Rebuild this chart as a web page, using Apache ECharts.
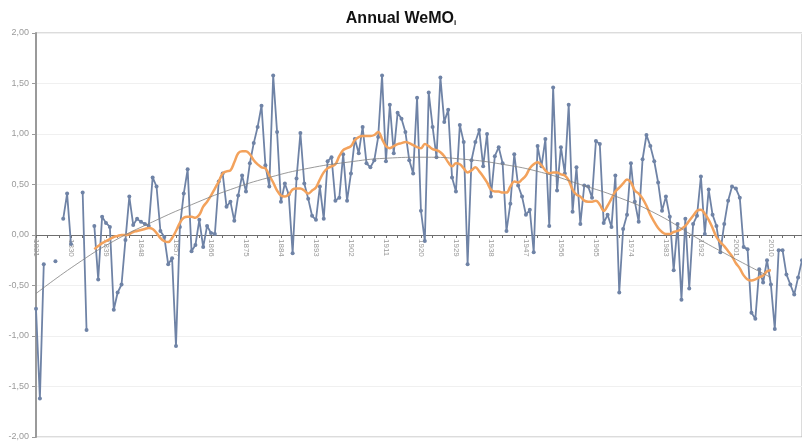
<!DOCTYPE html>
<html>
<head>
<meta charset="utf-8">
<script src="https://cdn.jsdelivr.net/npm/echarts@6/dist/echarts.min.js"></script>
<style>html,body{margin:0;padding:0;background:#fff}#c{width:802px;height:445px}</style>
</head>
<body>
<div id="c"></div>
<script>
var years = [];
for (var y = 1821; y <= 2018; y++) years.push(String(y));

var annual = [
-0.73,-1.62,-0.29,null,null,-0.26,null,0.16,0.41,-0.09,
null,null,0.42,-0.94,null,0.09,-0.44,0.18,0.12,0.08,
-0.74,-0.57,-0.49,-0.05,0.38,0.10,0.16,0.13,0.11,0.09,
0.57,0.48,0.04,-0.02,-0.29,-0.23,-1.10,0.08,0.41,0.65,
-0.16,-0.10,0.15,-0.12,0.09,0.02,0.01,0.53,0.61,0.28,
0.33,0.14,0.39,0.59,0.43,0.71,0.91,1.07,1.28,0.69,
0.48,1.58,1.02,0.33,0.51,0.40,-0.18,0.56,1.01,0.51,
0.36,0.19,0.15,0.48,0.16,0.73,0.77,0.34,0.37,0.80,
0.34,0.61,0.95,0.81,1.07,0.71,0.67,0.74,0.97,1.58,
0.73,1.29,0.81,1.21,1.15,1.02,0.74,0.61,1.36,0.24,
-0.06,1.41,1.07,0.77,1.56,1.12,1.24,0.57,0.43,1.09,
0.92,-0.29,0.74,0.92,1.04,0.68,1.00,0.38,0.78,0.87,
0.71,0.04,0.31,0.80,0.49,0.38,0.20,0.25,-0.17,0.88,
0.68,0.95,0.09,1.46,0.44,0.87,0.61,1.29,0.23,0.67,
0.11,0.49,0.48,0.37,0.93,0.90,0.12,0.20,0.08,0.59,
-0.57,0.06,0.20,0.71,0.33,0.13,0.75,0.99,0.88,0.73,
0.52,0.24,0.38,0.18,-0.35,0.11,-0.64,0.16,-0.53,0.11,
0.19,0.58,0.01,0.45,0.20,0.09,-0.17,0.11,0.34,0.48,
0.46,0.37,-0.12,-0.14,-0.77,-0.83,-0.34,-0.47,-0.25,-0.49,
-0.93,-0.15,-0.15,-0.39,-0.49,-0.59,-0.42,-0.25
];

// moving average, 1836..2010
var smoothVals = [
-0.14,-0.11,-0.08,-0.06,-0.04,-0.02,-0.01,0.00,0.00,0.01,
0.03,0.04,0.05,0.06,0.07,0.06,0.02,-0.03,-0.06,-0.07,
-0.03,0.04,0.12,0.17,0.18,0.18,0.17,0.20,0.28,0.33,
0.39,0.46,0.53,0.61,0.63,0.64,0.72,0.81,0.83,0.83,
0.80,0.74,0.70,0.67,0.66,0.59,0.52,0.44,0.39,0.38,
0.40,0.45,0.46,0.46,0.44,0.41,0.44,0.47,0.55,0.62,
0.66,0.68,0.70,0.78,0.84,0.86,0.88,0.94,0.97,0.98,
0.98,0.98,0.99,1.02,0.95,0.88,0.86,0.88,0.90,0.91,
0.92,0.91,0.89,0.87,0.86,0.90,0.88,0.85,0.84,0.82,
0.78,0.72,0.68,0.71,0.70,0.66,0.62,0.64,0.67,0.63,
0.58,0.52,0.45,0.43,0.43,0.42,0.42,0.48,0.53,0.52,
0.55,0.59,0.66,0.70,0.72,0.69,0.64,0.61,0.62,0.62,
0.60,0.59,0.54,0.45,0.40,0.38,0.34,0.33,0.33,0.34,
0.30,0.24,0.29,0.36,0.43,0.47,0.51,0.55,0.52,0.44,
0.41,0.36,0.29,0.20,0.13,0.07,0.03,0.01,0.01,0.03,
0.04,0.06,0.09,0.14,0.19,0.24,0.25,0.21,0.15,0.07,
-0.02,-0.07,-0.11,-0.16,-0.21,-0.28,-0.33,-0.40,-0.44,-0.45,
-0.44,-0.42,-0.40,-0.36,-0.35
];

var trendYears = ['1821','1831','1841','1851','1861','1871','1881','1891','1901','1911','1921','1931','1941','1951','1961','1971','1981','1991','2001','2010'];
var trendVals = [-0.58,-0.30,-0.06,0.13,0.30,0.45,0.57,0.66,0.72,0.76,0.77,0.75,0.70,0.62,0.50,0.37,0.20,-0.03,-0.24,-0.42];

var yTicks = { min: -2, max: 2, step: 0.5 };

var smoothSeries = years.map(function (yr) {
  var i = Number(yr) - 1836;
  return (i >= 0 && i < smoothVals.length) ? smoothVals[i] : null;
});
var trendSeries = years.map(function (yr) {
  var k = trendYears.indexOf(yr);
  return k >= 0 ? trendVals[k] : null;
});

var GRID_TOP = 33, GRID_BOTTOM = 8, H = 445;
var plotH = H - GRID_TOP - GRID_BOTTOM;
var zeroOffset = -plotH * (0 - yTicks.min) / (yTicks.max - yTicks.min);

var chart = echarts.init(document.getElementById('c'), null, { renderer: 'canvas' });
chart.setOption({
  animation: false,
  backgroundColor: '#fff',
  title: {
    left: 'center',
    top: 6,
    text: '{a|Annual WeMO}{b|i}',
    textStyle: {
      rich: {
        a: { fontSize: 16, fontWeight: 'bold', fontFamily: 'Liberation Sans', color: '#111' },
        b: { fontSize: 8, fontWeight: 'bold', fontFamily: 'Liberation Sans', color: '#111', padding: [8, 0, 0, 0] }
      }
    }
  },
  grid: { left: 36, right: 0, top: GRID_TOP, bottom: GRID_BOTTOM, show: true, borderColor: '#b8b8b8', borderWidth: 1, outerBoundsMode: 'none', containLabel: false },
  xAxis: {
    type: 'category',
    data: years,
    boundaryGap: false,
    offset: zeroOffset,
    axisLine: { onZero: false, lineStyle: { color: '#6e6e6e', width: 1 } },
    axisTick: { show: true, interval: 2, length: 3, lineStyle: { color: '#6e6e6e' } },
    axisLabel: { interval: 8, rotate: -90, fontSize: 8, color: '#9a9a9a', margin: 4, fontFamily: 'Liberation Sans' },
    splitLine: { show: false }
  },
  yAxis: {
    type: 'value',
    min: yTicks.min,
    max: yTicks.max,
    interval: yTicks.step,
    axisLine: { show: true, lineStyle: { color: '#9a9a9a', width: 2 } },
    axisTick: { show: true, length: 4, lineStyle: { color: '#9a9a9a' } },
    axisLabel: {
      fontSize: 9, color: '#9a9a9a', margin: 7, fontFamily: 'Liberation Sans',
      formatter: function (v) { return v.toFixed(2).replace('.', ','); }
    },
    splitLine: { show: true, lineStyle: { color: '#f0f0f0', width: 1 } }
  },
  series: [
    {
      name: 'annual', type: 'line', data: annual,
      symbol: 'circle', symbolSize: 4, showAllSymbol: true,
      connectNulls: false,
      lineStyle: { color: '#6f83a6', width: 1.8 },
      itemStyle: { color: '#6f83a6' },
      z: 2
    },
    {
      name: 'smooth', type: 'line', data: smoothSeries,
      symbol: 'none', smooth: 0.4,
      lineStyle: { color: '#f3a25c', width: 2.5 },
      z: 3
    },
    {
      name: 'trend', type: 'line', data: trendSeries,
      symbol: 'none', smooth: true, connectNulls: true,
      lineStyle: { color: '#808080', width: 0.8 },
      z: 4
    }
  ]
});
</script>
</body>
</html>
